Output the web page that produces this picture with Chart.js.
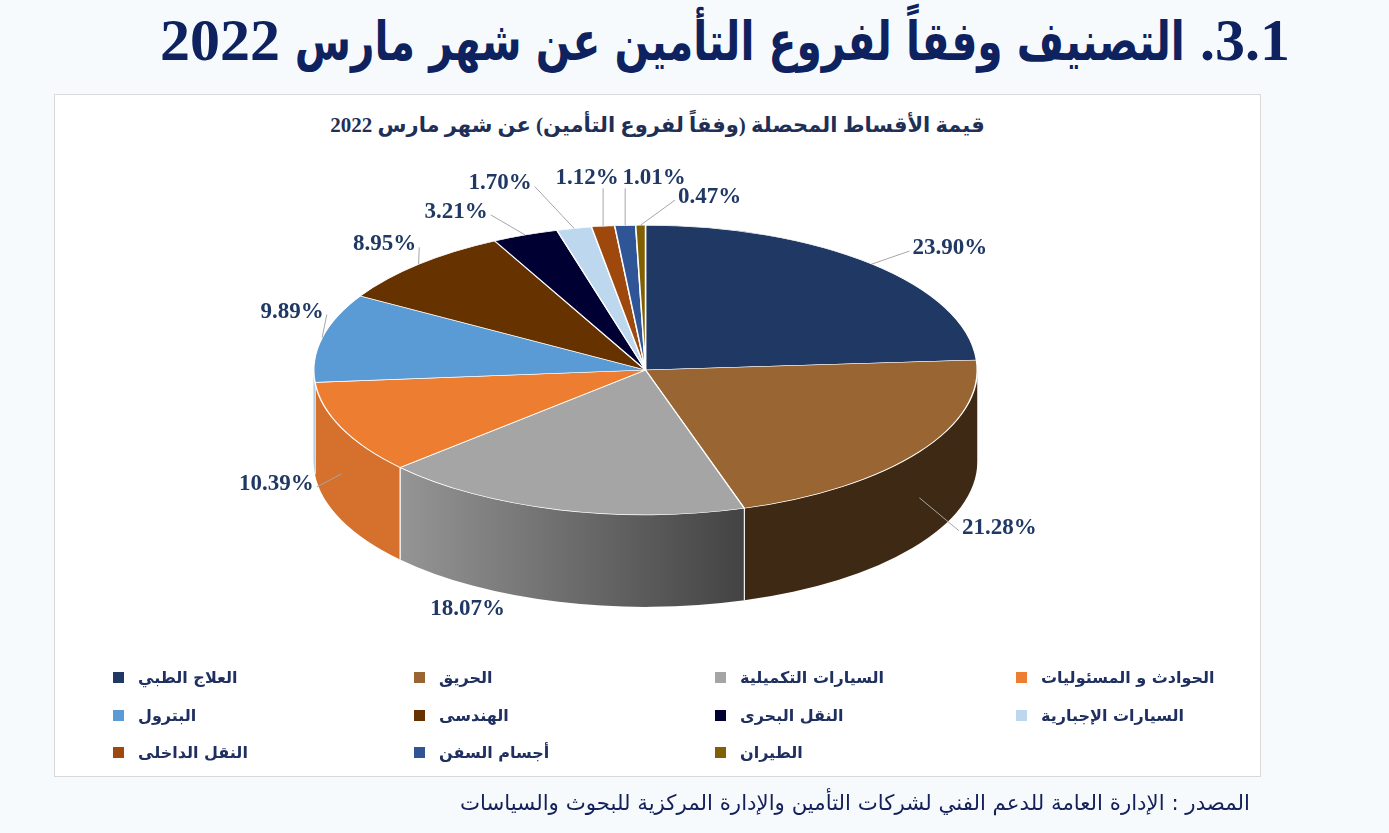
<!DOCTYPE html>
<html><head><meta charset="utf-8">
<script src="https://cdn.jsdelivr.net/npm/chart.js@4.4.1/dist/chart.umd.min.js"></script>
<style>
html,body{margin:0;padding:0;}
body{width:1389px;height:833px;background:#f7fafd;position:relative;overflow:hidden;font-family:'DejaVu Sans',sans-serif;}
#title{position:absolute;right:99px;top:6px;direction:rtl;color:#0f2260;white-space:nowrap;line-height:66px;font:bold 60px 'Liberation Serif',serif;}
#title .num{font:bold 60px 'Liberation Serif',serif;}
#title #ar{display:inline-block;font:bold 54px 'DejaVu Sans',sans-serif;transform-origin:right center;}
#box{position:absolute;left:54px;top:94px;width:1205px;height:681px;background:#fff;border:1px solid #d9d9d9;}
#sub{position:absolute;left:54px;width:1207px;top:112px;text-align:center;direction:rtl;font:bold 21px 'Liberation Serif','DejaVu Sans',serif;color:#1f2f55;line-height:26px;}
#c{position:absolute;left:0;top:0;}
.lg{position:absolute;display:flex;align-items:center;height:22px;font:bold 16px 'DejaVu Sans',sans-serif;color:#1f3060;white-space:nowrap;}
.lg i{display:inline-block;width:11px;height:11px;margin-right:14px;}
#src{position:absolute;right:139px;top:790px;direction:rtl;font:21.3px 'DejaVu Sans',sans-serif;color:#14205a;line-height:26px;white-space:nowrap;}
</style></head>
<body>
<div id="title"><span class="num">3.1.</span> <span id="ar">التصنيف وفقاً لفروع التأمين عن شهر مارس</span> <span class="num">2022</span></div>
<div id="box"></div>
<div id="sub">قيمة الأقساط المحصلة (وفقاً لفروع التأمين) عن شهر مارس 2022</div>
<canvas id="c" width="1389" height="833"></canvas>
<div id="legend"></div>
<div id="src">المصدر : الإدارة العامة للدعم الفني لشركات التأمين والإدارة المركزية للبحوث والسياسات</div>
<script>
const categories = ['العلاج الطبي','الحريق','السيارات التكميلية','الحوادث و المسئوليات','البترول','الهندسى','النقل البحرى','السيارات الإجبارية','النقل الداخلى','أجسام السفن','الطيران'];
const shares = [23.90, 21.28, 18.07, 10.39, 9.89, 8.95, 3.21, 1.70, 1.12, 1.01, 0.47];
const sliceColors = ['#1F3864','#996633','#A5A5A5','#ED7D31','#5B9BD5','#663300','#000033','#BDD7EE','#9E480E','#2F5597','#806000'];

// fit the Arabic part of the main title to the reference width
(function(){
  const t=document.getElementById('title'), ar=document.getElementById('ar');
  const w=ar.getBoundingClientRect().width, tw=t.getBoundingClientRect().width;
  const s=(1130-(tw-w))/w;
  if(s<1){ ar.style.transform=`scaleX(${s})`; ar.style.marginLeft=(-(1-s)*w)+'px'; }
})();

function shade(hex, f){
  const n=parseInt(hex.slice(1),16);
  const r=Math.round(((n>>16)&255)*f), g=Math.round(((n>>8)&255)*f), b=Math.round((n&255)*f);
  return `rgb(${r},${g},${b})`;
}
function light(a){
  const deg=a*180/Math.PI;
  return Math.max(0.4, Math.min(0.9, 0.4+(deg-72)/65*0.5));
}

const pie3d = {
  id:'pie3d',
  beforeDatasetsDraw(chart, args, opts){
    const ctx=chart.ctx, meta=chart.getDatasetMeta(0);
    const cols=chart.data.datasets[0].backgroundColor;
    ctx.save();
    meta.data.forEach((arc,i)=>{
      const p=arc.getProps(['x','startAngle','endAngle','outerRadius'],true);
      const R=p.outerRadius, ry=R*opts.k, cy=opts.cy, d=opts.depth;
      const s=Math.max(p.startAngle,0), e=Math.min(p.endAngle,Math.PI);
      if(e<=s) return;
      ctx.beginPath();
      ctx.ellipse(p.x,cy,R,ry,0,s,e,false);
      ctx.lineTo(p.x+R*Math.cos(e), cy+ry*Math.sin(e)+d);
      ctx.ellipse(p.x,cy+d,R,ry,0,e,s,true);
      ctx.closePath();
      const xL=p.x+R*Math.cos(e), xR=p.x+R*Math.cos(s);
      const g=ctx.createLinearGradient(xL,0,xR+0.01,0);
      g.addColorStop(0, shade(cols[i], light(e)));
      g.addColorStop(1, shade(cols[i], light(s)));
      ctx.fillStyle=g; ctx.fill();
      ctx.strokeStyle='rgba(255,255,255,0.85)'; ctx.lineWidth=1.2;
      [s,e].forEach(a=>{
        if(a>0.001 && a<Math.PI-0.001){
          const X=p.x+R*Math.cos(a), Y=cy+ry*Math.sin(a);
          ctx.beginPath(); ctx.moveTo(X,Y); ctx.lineTo(X,Y+d); ctx.stroke();
        }
      });
    });
    ctx.restore();
  },
  beforeDatasetDraw(chart, args, opts){
    const ctx=chart.ctx, arc=chart.getDatasetMeta(0).data[0];
    ctx.save();
    ctx.translate(0,opts.cy); ctx.scale(1,opts.k); ctx.translate(0,-arc.y);
  },
  afterDatasetDraw(chart){ chart.ctx.restore(); },
  afterDatasetsDraw(chart, args, opts){
    const ctx=chart.ctx, meta=chart.getDatasetMeta(0);
    const vals=chart.data.datasets[0].data;
    ctx.save();
    ctx.font="bold 23px 'Liberation Serif', serif";
    ctx.fillStyle='#1F3864'; ctx.textAlign='center'; ctx.textBaseline='middle';
    ctx.strokeStyle='#A6A6A6'; ctx.lineWidth=1;
    meta.data.forEach((arc,i)=>{
      const p=arc.getProps(['x','startAngle','endAngle','outerRadius'],true);
      const R=p.outerRadius, ry=R*opts.k, cy=opts.cy, d=opts.depth;
      const mid=(p.startAngle+p.endAngle)/2;
      let ax=p.x+R*Math.cos(mid), ay=cy+ry*Math.sin(mid);
      if(Math.sin(mid)>0.3) ay+=d/2;
      const off=opts.offsets[i], mode=opts.leader[i];
      const lx=ax+off[0], ly=ay+off[1];
      const t=vals[i].toFixed(2)+'%';
      const w=ctx.measureText(t).width;
      if(mode!=='none'){
        let ex, ey;
        if(mode==='v'){ ex=ax; ey=ly+10; }
        else if(off[0]<0){ ex=lx+w/2+3; ey=ly+3; }
        else { ex=lx-w/2-3; ey=ly+3; }
        ctx.beginPath(); ctx.moveTo(ax,ay); ctx.lineTo(ex,ey); ctx.stroke();
      }
      ctx.fillText(t,lx,ly);
    });
    ctx.restore();
  }
};

new Chart(document.getElementById('c'), {
  type:'pie',
  data:{ labels:categories, datasets:[{ data:shares, backgroundColor:sliceColors, borderColor:'#ffffff', borderWidth:1.5, clip:false }]},
  options:{
    responsive:false, animation:false,
    layout:{ padding:{ left:313, right:411, top:0, bottom:0 } },
    plugins:{
      legend:{display:false}, title:{display:false}, tooltip:{enabled:false},
      pie3d:{ cy:370, k:145/332, depth:92,
        offsets:[[78,-16],[80,30],[-91,53],[-65,10],[-30,-26],[-34,-20],[-69,-23],[-74,-45],[-16,-48],[29,-47],[69,-28]],
        leader:['h','h','none','h','h','h','h','h','v','v','h'] }
    }
  },
  plugins:[pie3d]
});

const lg=document.getElementById('legend');
categories.forEach((c,i)=>{
  const col=i%4, row=Math.floor(i/4);
  const d=document.createElement('div');
  d.className='lg';
  d.style.left=(113+col*301)+'px';
  d.style.top=([677,715,752][row]-11)+'px';
  d.innerHTML=`<i style="background:${sliceColors[i]}"></i><span>${c}</span>`;
  lg.appendChild(d);
});
</script>
</body></html>
